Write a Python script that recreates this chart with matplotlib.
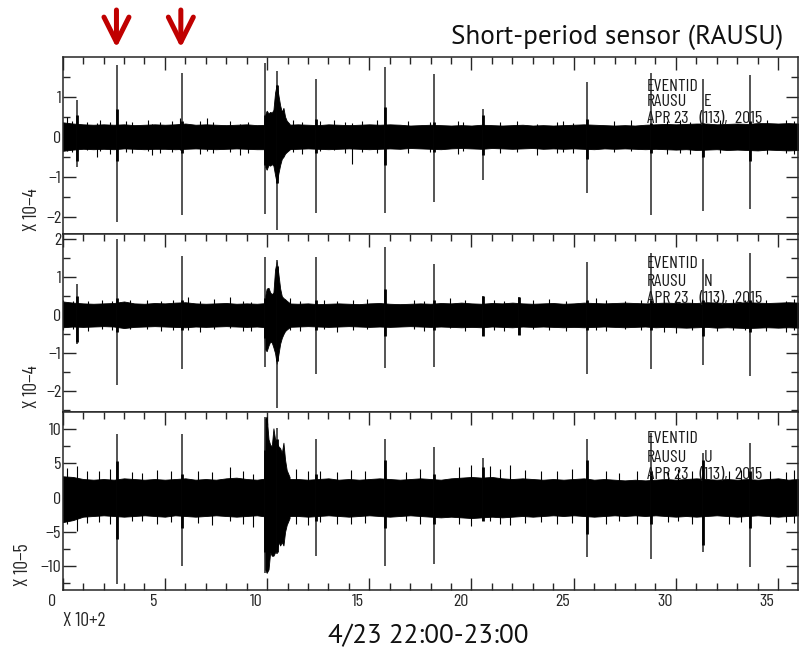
import numpy as np
import matplotlib
matplotlib.use("Agg")
import matplotlib.pyplot as plt
from matplotlib.ticker import MultipleLocator
from matplotlib import transforms

# ---------------------------------------------------------------- data
# time axis in units of 100 s (X 10+2), one hour of record
t_env = np.arange(0.0, 36.01, 0.5)

# background noise envelope of each component (upper / lower)
E_up = [0.36, 0.33, 0.31, 0.30, 0.31, 0.30, 0.31, 0.29, 0.30, 0.31, 0.30, 0.31, 0.33, 0.30, 0.31, 0.30, 0.29, 0.30, 0.31, 0.29,
        0.30, 0.31, 0.30, 0.31, 0.30, 0.29, 0.31, 0.30, 0.29, 0.30, 0.31, 0.30, 0.31, 0.30, 0.28, 0.29, 0.30, 0.29, 0.28, 0.29,
        0.28, 0.30, 0.29, 0.28, 0.29, 0.30, 0.28, 0.29, 0.28, 0.29, 0.30, 0.31, 0.30, 0.29, 0.28, 0.29, 0.28, 0.30, 0.31, 0.32,
        0.31, 0.32, 0.33, 0.33, 0.31, 0.32, 0.33, 0.32, 0.34, 0.34, 0.33, 0.34, 0.33]
E_lo = [-0.35, -0.32, -0.30, -0.31, -0.30, -0.31, -0.29, -0.30, -0.31, -0.30, -0.30, -0.31, -0.30, -0.29, -0.30, -0.31, -0.30, -0.29, -0.30, -0.31,
        -0.31, -0.30, -0.31, -0.30, -0.29, -0.30, -0.31, -0.30, -0.29, -0.30, -0.31, -0.30, -0.29, -0.30, -0.28, -0.29, -0.30, -0.31, -0.29, -0.28,
        -0.29, -0.30, -0.28, -0.29, -0.30, -0.29, -0.28, -0.30, -0.29, -0.30, -0.29, -0.30, -0.31, -0.29, -0.30, -0.29, -0.30, -0.31, -0.30, -0.31,
        -0.32, -0.31, -0.33, -0.32, -0.31, -0.33, -0.32, -0.33, -0.34, -0.32, -0.33, -0.34, -0.33]

N_up = [0.36, 0.33, 0.31, 0.30, 0.31, 0.32, 0.36, 0.31, 0.30, 0.32, 0.31, 0.33, 0.34, 0.31, 0.30, 0.31, 0.32, 0.30, 0.31, 0.30,
        0.32, 0.31, 0.31, 0.30, 0.31, 0.29, 0.30, 0.31, 0.30, 0.29, 0.31, 0.32, 0.30, 0.29, 0.30, 0.31, 0.30, 0.32, 0.31, 0.33,
        0.31, 0.30, 0.32, 0.31, 0.33, 0.31, 0.30, 0.31, 0.32, 0.30, 0.31, 0.33, 0.32, 0.31, 0.32, 0.33, 0.32, 0.31, 0.32, 0.33,
        0.32, 0.33, 0.32, 0.34, 0.33, 0.32, 0.33, 0.34, 0.33, 0.32, 0.33, 0.34, 0.33]
N_lo = [-0.32, -0.30, -0.31, -0.30, -0.29, -0.30, -0.34, -0.31, -0.30, -0.29, -0.30, -0.31, -0.32, -0.30, -0.31, -0.30, -0.29, -0.30, -0.31, -0.30,
        -0.32, -0.31, -0.31, -0.30, -0.29, -0.30, -0.31, -0.30, -0.29, -0.30, -0.31, -0.30, -0.31, -0.30, -0.29, -0.30, -0.31, -0.30, -0.31, -0.32,
        -0.31, -0.32, -0.30, -0.31, -0.32, -0.30, -0.31, -0.30, -0.31, -0.32, -0.31, -0.32, -0.31, -0.30, -0.31, -0.32, -0.31, -0.30, -0.32, -0.31,
        -0.32, -0.33, -0.32, -0.31, -0.33, -0.32, -0.33, -0.34, -0.33, -0.32, -0.33, -0.32, -0.33]

U_up = [3.1, 3.0, 2.7, 2.6, 2.7, 2.6, 2.8, 2.7, 2.6, 2.7, 2.6, 2.7, 2.8, 2.6, 2.7, 2.6, 2.8, 2.9, 2.7, 2.6,
        2.8, 2.8, 2.7, 2.7, 2.6, 2.7, 2.8, 2.6, 2.7, 2.6, 2.7, 2.8, 2.7, 2.6, 2.7, 2.8, 2.7, 2.6, 2.8, 2.9,
        3.0, 2.9, 3.0, 2.8, 2.7, 2.8, 2.7, 2.6, 2.7, 2.6, 2.7, 2.8, 2.6, 2.7, 2.6, 2.5, 2.6, 2.5, 2.6, 2.7,
        2.6, 2.7, 2.8, 2.7, 2.6, 2.7, 2.6, 2.7, 2.6, 2.7, 2.8, 2.6, 2.7]
U_lo = [-3.6, -3.3, -2.8, -2.7, -2.6, -2.7, -2.8, -2.7, -2.6, -2.7, -2.8, -2.6, -2.7, -2.8, -2.7, -2.6, -2.7, -2.8, -2.7, -2.6,
        -2.8, -2.8, -2.7, -2.7, -2.8, -2.7, -2.6, -2.7, -2.8, -2.7, -2.6, -2.7, -2.8, -2.7, -2.6, -2.7, -2.8, -2.9, -2.8, -2.9,
        -3.0, -2.9, -2.8, -2.9, -2.8, -2.7, -2.8, -2.7, -2.6, -2.7, -2.6, -2.7, -2.8, -2.7, -2.6, -2.7, -2.6, -2.7, -2.6, -2.7,
        -2.8, -2.7, -2.8, -2.7, -2.6, -2.7, -2.8, -2.7, -2.6, -2.7, -2.8, -2.7, -2.6]

# local earthquake around 10-11 (x100 s)
burst_t = [9.85, 9.90, 9.98, 10.07, 10.15, 10.23, 10.31, 10.39, 10.47, 10.55, 10.64, 10.72, 10.80, 10.88, 10.96, 11.10]
E_burst_up = [0.35, 0.55, 0.65, 0.58, 0.62, 0.60, 0.67, 1.10, 1.30, 1.05, 0.78, 0.62, 0.72, 0.50, 0.40, 0.32]
E_burst_lo = [-0.35, -0.75, -0.82, -0.70, -0.72, -0.68, -0.72, -0.95, -1.15, -0.92, -0.70, -0.55, -0.50, -0.42, -0.38, -0.32]
N_burst_up = [0.35, 0.50, 0.70, 0.72, 0.60, 0.55, 0.60, 1.20, 1.42, 1.10, 0.70, 0.50, 0.45, 0.42, 0.38, 0.32]
N_burst_lo = [-0.35, -0.90, -0.95, -0.80, -0.70, -0.72, -0.85, -1.00, -1.28, -1.05, -0.75, -0.60, -0.50, -0.42, -0.38, -0.32]
U_burst_up = [3.0, 11.5, 11.8, 8.5, 7.7, 7.5, 10.1, 8.5, 8.0, 7.5, 7.2, 6.5, 8.0, 5.5, 4.0, 3.0]
U_burst_lo = [-3.0, -10.5, -11.0, -10.5, -8.0, -8.5, -8.5, -8.0, -8.0, -6.5, -7.0, -6.5, -7.0, -5.0, -4.0, -3.0]

# impulsive spikes: full extent and the thicker core
E_spk_t = [0.70, 2.66, 5.84, 9.90, 10.47, 12.38, 15.77, 18.17, 20.55, 25.64, 28.77, 31.34, 33.63]
E_spk_up = [0.92, 1.78, 1.60, 1.85, 1.64, 1.43, 1.75, 1.57, 0.68, 1.37, 1.60, 1.44, 1.54]
E_spk_lo = [-0.75, -2.13, -1.96, -1.92, -2.33, -1.89, -1.89, -1.63, -1.08, -1.40, -1.96, -1.86, -1.79]
E_core_up = [0.55, 0.70, 0.40, 0.55, 1.30, 0.45, 0.75, 0.38, 0.55, 0.45, 0.35, 0.35, 0.40]
E_core_lo = [-0.60, -0.60, -0.40, -0.70, -1.15, -0.40, -0.70, -0.38, -0.45, -0.55, -0.40, -0.50, -0.60]

N_spk_t = [0.70, 2.66, 5.84, 9.90, 10.47, 12.38, 15.77, 18.17, 20.55, 22.33, 25.64, 28.77, 31.34, 33.63]
N_spk_up = [0.83, 2.00, 1.57, 1.54, 1.45, 1.54, 1.79, 1.36, 0.50, 0.48, 1.39, 1.64, 1.48, 1.64]
N_spk_lo = [-0.77, -1.84, -1.43, -1.37, -2.44, -1.54, -1.40, -1.36, -0.55, -0.53, -1.54, -1.43, -1.32, -1.60]
N_core_up = [0.50, 0.45, 0.40, 0.45, 1.30, 0.40, 0.70, 0.40, 0.50, 0.48, 0.40, 0.40, 0.40, 0.40]
N_core_lo = [-0.70, -0.45, -0.40, -0.60, -1.20, -0.40, -0.55, -0.40, -0.55, -0.53, -0.40, -0.40, -0.55, -0.45]

U_spk_t = [2.66, 5.84, 9.90, 10.47, 12.38, 15.77, 18.17, 20.55, 25.64, 28.77, 31.34, 33.63]
U_spk_up = [9.2, 9.2, 11.8, 10.1, 8.6, 8.5, 7.4, 5.7, 8.5, 9.4, 6.5, 7.9]
U_spk_lo = [-12.6, -10.0, -11.0, -8.2, -8.6, -10.0, -9.7, -3.5, -8.7, -9.0, -8.0, -10.2]
U_core_up = [5.3, 3.5, 7.0, 8.5, 3.5, 5.5, 3.5, 4.5, 5.5, 3.8, 5.5, 3.8]
U_core_lo = [-6.0, -4.5, -8.0, -8.0, -3.5, -4.5, -3.8, -3.5, -5.4, -3.8, -7.0, -4.5]

# short noise peaks sticking out of the band
E_hair_t = [0.20, 0.44, 1.17, 1.66, 1.83, 2.32, 3.10, 3.38, 4.19, 4.36, 4.76, 5.33, 5.74, 6.72, 7.05, 7.37,
            8.19, 8.68, 9.09, 11.29, 11.70, 12.59, 13.25, 13.82, 14.14, 14.63, 15.37, 16.90, 17.98, 19.36,
            19.60, 21.40, 22.22, 23.20, 24.18, 24.50, 24.99, 26.95, 27.80, 29.56, 30.20, 30.70, 31.27, 32.17,
            34.45, 35.40, 35.76]
E_hair_up = [0.50, 0.40, 0.38, 0.34, 0.41, 0.36, 0.40, 0.37, 0.42, 0.33, 0.38, 0.40, 0.46, 0.39, 0.48, 0.36,
             0.40, 0.33, 0.38, 0.42, 0.37, 0.40, 0.42, 0.36, 0.34, 0.39, 0.41, 0.40, 0.37, 0.39,
             0.38, 0.36, 0.40, 0.33, 0.37, 0.40, 0.35, 0.39, 0.42, 0.40, 0.41, 0.38, 0.36, 0.42,
             0.41, 0.42, 0.40]
E_hair_lo = [-0.36, -0.38, -0.34, -0.50, -0.36, -0.42, -0.38, -0.40, -0.35, -0.46, -0.40, -0.37, -0.34, -0.42, -0.35, -0.41,
             -0.37, -0.45, -0.40, -0.38, -0.43, -0.36, -0.33, -0.41, -0.67, -0.38, -0.40, -0.40, -0.39, -0.42,
             -0.36, -0.40, -0.37, -0.45, -0.40, -0.38, -0.41, -0.37, -0.36, -0.42, -0.40, -0.43, -0.50, -0.40,
             -0.44, -0.40, -0.42]

N_hair_t = [0.03, 0.50, 1.25, 1.90, 2.40, 3.30, 4.10, 4.80, 5.40, 6.15, 6.70, 7.40, 8.20, 8.80, 9.20, 11.10,
            11.60, 12.80, 13.40, 14.20, 14.90, 17.20, 17.70, 18.95, 19.70, 21.10, 21.60, 23.00, 23.80, 24.60,
            26.10, 26.60, 27.50, 28.30, 29.40, 30.00, 30.80, 32.00, 32.80, 33.40, 34.40, 35.40, 35.80]
N_hair_up = [0.40, 0.38, 0.36, 0.41, 0.37, 0.39, 0.41, 0.36, 0.40, 0.48, 0.36, 0.42, 0.48, 0.38, 0.35, 0.44,
             0.38, 0.41, 0.36, 0.40, 0.42, 0.40, 0.37, 0.46, 0.39, 0.41, 0.38, 0.40, 0.42, 0.37,
             0.44, 0.40, 0.38, 0.41, 0.39, 0.36, 0.42, 0.40, 0.43, 0.41, 0.39, 0.38, 0.42]
N_hair_lo = [-0.38, -0.36, -0.41, -0.37, -0.40, -0.36, -0.36, -0.42, -0.38, -0.40, -0.45, -0.37, -0.35, -0.41, -0.42, -0.38,
             -0.42, -0.37, -0.44, -0.39, -0.36, -0.36, -0.42, -0.35, -0.41, -0.38, -0.43, -0.37, -0.40, -0.41,
             -0.38, -0.42, -0.36, -0.40, -0.44, -0.46, -0.39, -0.41, -0.38, -0.38, -0.43, -0.44, -0.40]

U_hair_t = [0.20, 0.70, 1.20, 1.80, 2.30, 3.40, 3.90, 4.60, 5.30, 6.60, 7.30, 8.20, 8.80, 9.30, 11.40, 12.00,
            12.60, 13.40, 14.10, 14.80, 16.80, 17.50, 19.40, 20.00, 20.90, 21.40, 21.90, 22.60, 23.40, 24.20,
            24.90, 26.60, 27.20, 28.10, 29.60, 30.10, 30.80, 32.60, 33.20, 34.60, 35.40, 35.80]
U_hair_up = [4.3, 4.6, 3.9, 3.8, 4.1, 3.7, 3.6, 4.0, 3.8, 3.9, 3.7, 4.5, 3.8, 3.4, 4.2, 3.9,
             3.9, 3.7, 4.0, 3.8, 3.7, 4.1, 4.5, 4.8, 4.6, 4.2, 4.7, 4.0, 3.9, 3.8,
             4.1, 3.8, 3.6, 3.9, 3.7, 4.2, 3.9, 3.8, 4.0, 3.9, 3.7, 4.0]
U_hair_lo = [-3.8, -4.9, -3.7, -3.6, -3.9, -3.5, -3.4, -3.8, -3.6, -3.7, -4.0, -3.5, -3.9, -4.3, -3.8, -4.0,
             -3.6, -3.9, -3.8, -3.7, -3.5, -3.9, -3.9, -4.2, -3.5, -3.9, -4.0, -3.7, -3.6, -3.9,
             -3.7, -3.8, -3.4, -3.8, -3.6, -3.5, -3.9, -3.9, -3.6, -3.8, -3.6, -3.7]

components = ['E', 'N', 'U']
exponents = ['\u22124', '\u22124', '\u22125']
y_limits = [(-2.43, 1.98), (-2.56, 2.13), (-13.43, 12.44)]
y_major = [1, 1, 5]
x_ticks = [0, 5, 10, 15, 20, 25, 30, 35]
arrow_t = [2.63, 5.78]

title = 'Short-period sensor (RAUSU)'
time_label = '4/23 22:00-23:00'
header = ['EVENTID', 'RAUSU', 'APR 23   (113),  2015']

# ---------------------------------------------------------------- figure
W, H = 801, 651
SAC = 'Barlow Condensed'
SANS = 'PT Sans'
INK = '#262626'
TXT = '#1a1a1a'

fig = plt.figure(figsize=(W / 100, H / 100), dpi=100)


def px_axes(left, top, right, bottom):
    return fig.add_axes([left / W, 1 - bottom / H, (right - left) / W, (bottom - top) / H])


panel_px = [(62.7, 57.3, 797.5, 234.3), (62.7, 234.3, 797.5, 412.3), (62.7, 412.3, 797.5, 589.5)]
series = [
    (E_up, E_lo, E_burst_up, E_burst_lo, E_spk_t, E_spk_up, E_spk_lo, E_core_up, E_core_lo, E_hair_t, E_hair_up, E_hair_lo),
    (N_up, N_lo, N_burst_up, N_burst_lo, N_spk_t, N_spk_up, N_spk_lo, N_core_up, N_core_lo, N_hair_t, N_hair_up, N_hair_lo),
    (U_up, U_lo, U_burst_up, U_burst_lo, U_spk_t, U_spk_up, U_spk_lo, U_core_up, U_core_lo, U_hair_t, U_hair_up, U_hair_lo),
]
header_base = [(90.7, 106.2, 123.3), (268.3, 285.7, 303.3), (443.3, 461.5, 479.3)]
ylabel_pos = [(32, 210), (32, 387), (23, 565)]

axes = []
for i, (box, s) in enumerate(zip(panel_px, series)):
    up, lo, bup, blo, st, sup, slo, cup, clo, ht, hup, hlo = s
    ax = px_axes(*box)
    axes.append(ax)
    ax.fill_between(t_env, lo, up, color='black', lw=0.6, zorder=2)
    ax.fill_between(burst_t, blo, bup, color='black', lw=0.6, zorder=2)
    ax.vlines(ht, hlo, hup, color='black', lw=0.8, zorder=2)
    ax.vlines(st, slo, sup, color=INK, lw=1.1, zorder=3)
    ax.vlines(st, clo, cup, color='black', lw=2.0, zorder=3)

    ax.set_xlim(0, 35.95)
    ax.set_ylim(*y_limits[i])
    ax.xaxis.set_major_locator(MultipleLocator(5))
    ax.xaxis.set_minor_locator(MultipleLocator(1))
    ax.yaxis.set_major_locator(MultipleLocator(y_major[i]))
    ax.yaxis.set_minor_locator(MultipleLocator(y_major[i] / 2))
    last = i == 2
    ax.tick_params(which='both', direction='in', top=True, bottom=last, left=True, right=True,
                   labelbottom=last, labelleft=True, color=INK, width=1.0,
                   labelcolor=INK, labelsize=13)
    ax.tick_params(which='major', length=9)
    ax.tick_params(which='minor', length=5)
    ax.tick_params(axis='y', pad=1.0)
    ax.tick_params(axis='x', pad=3.0)
    for lab in ax.get_yticklabels() + ax.get_xticklabels():
        lab.set_family(SAC)
    for sp in ax.spines.values():
        sp.set_color(INK)
        sp.set_linewidth(1.1)

    # station header inside the panel
    bx = 646.7
    for txt, yb in zip(header, header_base[i]):
        fig.text(bx / W, 1 - yb / H, txt, family=SAC, fontsize=13, color=TXT,
                 ha='left', va='baseline', zorder=5)
    fig.text(704 / W, 1 - header_base[i][1] / H, components[i], family=SAC, fontsize=13,
             color=TXT, ha='left', va='baseline', zorder=5)

    # amplitude scale factor
    xl, yl = ylabel_pos[i]
    fig.text(xl / W, 1 - yl / H, 'X 10' + exponents[i], rotation=90, family=SAC,
             fontsize=14, color=INK, ha='center', va='center')

ax3 = axes[2]
ax3.set_xticks(x_ticks)
ax3.set_xticklabels([str(v) for v in x_ticks])
shift = transforms.ScaledTranslation(-11 / 100, 0, fig.dpi_scale_trans)
for tk in ax3.xaxis.get_major_ticks():
    tk.label1.set_transform(tk.label1.get_transform() + shift)
    tk.label1.set_family(SAC)
fig.text(63 / W, 1 - 626 / H, 'X 10+2', family=SAC, fontsize=14, color=INK,
         ha='left', va='baseline')

# arrows pointing at the two marked spikes
for ta in arrow_t:
    axes[0].annotate('', xy=(ta, H - 47.7), xycoords=('data', 'figure pixels'),
                     xytext=(ta, H - 10), textcoords=('data', 'figure pixels'),
                     arrowprops=dict(arrowstyle='->,head_length=0.9,head_width=0.45', lw=3.6,
                                     color='#c00000', mutation_scale=20, shrinkA=0, shrinkB=0),
                     annotation_clip=False)

fig.text(783 / W, 1 - 43.7 / H, title, family=SANS, fontsize=19.5, color='#111111',
         ha='right', va='baseline')
fig.text(428.3 / W, 1 - 643.3 / H, time_label, family=SANS, fontsize=19.5, color='#111111',
         ha='center', va='baseline')

fig.savefig('out.png', dpi=100)
